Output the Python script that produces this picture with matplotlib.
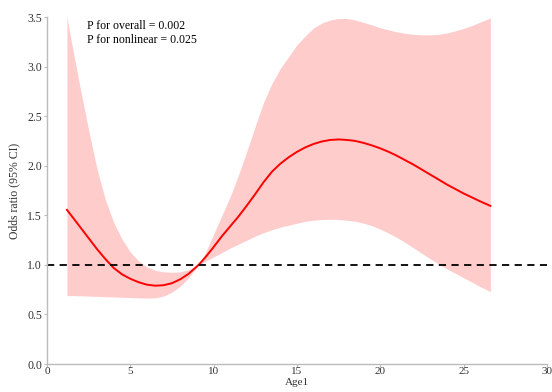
import numpy as np
import matplotlib
matplotlib.use("Agg")
import matplotlib.pyplot as plt

plt.rcParams['font.family'] = ['Liberation Serif', 'DejaVu Serif']

# ----------- values -----------
age = [1.2, 1.5, 2, 2.5, 3, 3.5, 4, 4.5, 5, 5.5, 6, 6.5, 7, 7.5, 8, 8.5, 9.1,
       9.5, 10, 10.5, 11, 11.5, 12, 12.5, 13, 13.5, 14, 14.5, 15, 15.5, 16,
       16.5, 17, 17.5, 18, 18.5, 19, 19.5, 20, 20.5, 21, 21.5, 22, 22.5, 23,
       23.5, 24, 24.5, 25, 25.5, 26, 26.6]
odds = [1.555, 1.49, 1.38, 1.27, 1.16, 1.06, 0.97, 0.905, 0.86, 0.825, 0.80,
        0.79, 0.795, 0.815, 0.855, 0.91, 1.0, 1.075, 1.18, 1.29, 1.39, 1.49,
        1.60, 1.715, 1.835, 1.94, 2.02, 2.085, 2.14, 2.185, 2.22, 2.245, 2.26,
        2.265, 2.26, 2.25, 2.23, 2.205, 2.175, 2.14, 2.10, 2.055, 2.01, 1.96,
        1.91, 1.86, 1.81, 1.765, 1.72, 1.68, 1.64, 1.595]
upper = [3.50, 3.22, 2.78, 2.36, 1.97, 1.66, 1.43, 1.26, 1.13, 1.04, 0.98,
         0.945, 0.93, 0.925, 0.93, 0.95, 1.0, 1.12, 1.31, 1.50, 1.69, 1.91,
         2.15, 2.40, 2.64, 2.83, 2.98, 3.10, 3.22, 3.31, 3.39, 3.44, 3.47,
         3.485, 3.485, 3.47, 3.445, 3.42, 3.39, 3.37, 3.35, 3.335, 3.325,
         3.32, 3.32, 3.325, 3.34, 3.36, 3.385, 3.415, 3.45, 3.49]
lower = [0.69, 0.69, 0.688, 0.685, 0.682, 0.679, 0.676, 0.673, 0.67, 0.667,
         0.665, 0.667, 0.685, 0.725, 0.785, 0.87, 1.0, 1.035, 1.08, 1.125,
         1.17, 1.21, 1.25, 1.29, 1.325, 1.355, 1.38, 1.40, 1.42, 1.44, 1.45,
         1.458, 1.46, 1.458, 1.45, 1.44, 1.42, 1.395, 1.36, 1.32, 1.275,
         1.225, 1.17, 1.115, 1.06, 1.01, 0.96, 0.915, 0.87, 0.825, 0.78, 0.73]

p_text = "P for overall = 0.002\nP for nonlinear = 0.025"

fig = plt.figure(figsize=(5.52, 3.92), dpi=100)
ax = fig.add_axes([0.085, 0.0714, 0.906, 0.8852])

ax.fill_between(age, lower, upper, color='#FFCCCC', linewidth=0)
ax.plot(age, odds, color='#FF0000', linewidth=1.4)
ax.axhline(1.0, color='black', linestyle=(0, (4, 3)), linewidth=1.3)

ax.set_xlim(0, 30)
ax.set_ylim(0, 3.5)
ax.set_xticks([0, 5, 10, 15, 20, 25, 30])
ax.set_yticks(np.arange(0, 3.51, 0.5))
ax.yaxis.set_major_formatter(matplotlib.ticker.FormatStrFormatter('%.1f'))

# ======= spines and ticks ========
for s in ['top', 'right']:
    ax.spines[s].set_visible(False)
for s in ['left', 'bottom']:
    ax.spines[s].set_color('#BBBBBB')
    ax.spines[s].set_linewidth(1.0)
ax.tick_params(axis='both', length=2.5, width=0.8, color='#BBBBBB',
               labelsize=8.5, labelcolor='#333333', pad=1)
ax.tick_params(axis='x', pad=0, labelsize=8)

ax.set_xlabel("Age1", fontsize=8, color='#333333')
ax.xaxis.set_label_coords(0.5, -0.04)
ax.set_ylabel("Odds ratio (95% CI)", fontsize=8.5, color='#333333', labelpad=5)

ax.text(2.4, 3.47, p_text, fontsize=8.5, color='black', va='top', ha='left',
        linespacing=1.2)

fig.savefig("out.png", dpi=100)
